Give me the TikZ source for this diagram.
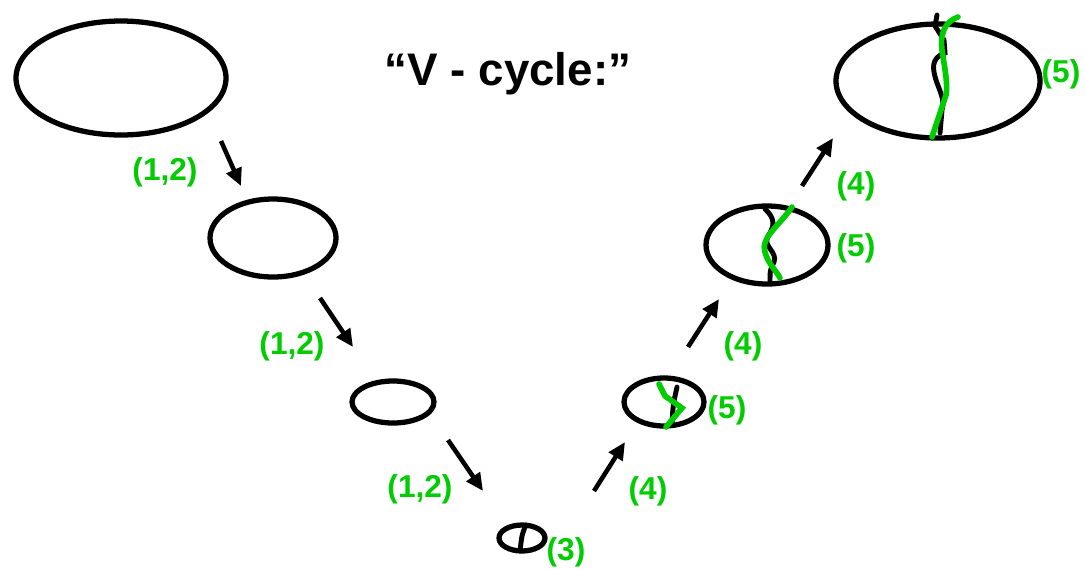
\documentclass[tikz,border=0pt]{standalone}
\usepackage{fontspec}
\setmainfont{Liberation Sans}
\usetikzlibrary{arrows.meta}
\definecolor{lbl}{RGB}{0,204,0}
\begin{document}
\begin{tikzpicture}[x=0.02cm,y=-0.02cm,
  cellline/.style={line width=3pt},
  arr/.style={line width=2.6pt,-{Triangle[length=10pt,width=9pt]}},
  glbl/.style={text=lbl,font=\bfseries\fontsize{18}{18}\selectfont,inner sep=0pt},
  crackb/.style={draw=black,line width=2.8pt,line cap=round},
  crackg/.style={draw=lbl,line width=3.2pt,line cap=round}]
\useasboundingbox (0,0) rectangle (1085,569);
% ellipses
\draw[cellline] (121,78) ellipse [x radius=105, y radius=57];
\draw[cellline] (273,238) ellipse [x radius=63, y radius=39];
\draw[cellline] (393,402) ellipse [x radius=41, y radius=21];
\draw[cellline] (522,538) ellipse [x radius=23, y radius=13];
\draw[cellline] (664,402) ellipse [x radius=40, y radius=24];
\draw[cellline] (767,245) ellipse [x radius=61, y radius=39];
\draw[cellline] (938,81) ellipse [x radius=102, y radius=57];
% cracks
\draw[crackb] (526,525) .. controls (522,534) .. (520,551);
\draw[crackb] (677,387) .. controls (673,405) .. (672,424);
\draw[crackg] (659,384) -- (665,396) -- (682,408) -- (666,427);
\draw[crackb] (765,209) .. controls (775,218) and (775,226) .. (768,236)
  .. controls (762,246) and (778,252) .. (774,262) .. controls (770,270) .. (770,283);
\draw[crackg] (792,207) .. controls (780,225) and (760,238) .. (765,252)
  .. controls (768,264) and (776,270) .. (780,278);
\draw[crackb] (937,15) -- (935,26) -- (944,40) -- (945,53) .. controls (930,58) and (933,70) .. (936,80)
  .. controls (940,92) and (945,100) .. (942,110) -- (940,133);
\draw[crackg] (958,17) .. controls (944,22) and (940,35) .. (942,50)
  .. controls (945,70) and (948,85) .. (946,95) -- (932,137);
% arrows
\coordinate (a1s) at (221,141); \coordinate (a1e) at (241,186);
\coordinate (a2s) at (320,298); \coordinate (a2e) at (353,347);
\coordinate (a3s) at (448,440); \coordinate (a3e) at (483,491);
\coordinate (a4s) at (594,491); \coordinate (a4e) at (625,442);
\coordinate (a5s) at (688,347); \coordinate (a5e) at (719,299);
\coordinate (a6s) at (802,186); \coordinate (a6e) at (833,138);
\foreach \i in {1,...,6} \draw[arr] (a\i s) -- (a\i e);
% labels
\node[glbl] (l1) at (165,172) {(1,2)};
\node[glbl] (l2) at (292,346) {(1,2)};
\node[glbl] (l3) at (420,489) {(1,2)};
\node[glbl] (l4) at (566,552) {(3)};
\node[glbl] (l5) at (648,491) {(4)};
\node[glbl] (l6) at (743,346) {(4)};
\node[glbl] (l7) at (856,186) {(4)};
\node[glbl] (l8) at (727,410) {(5)};
\node[glbl] (l9) at (856,248) {(5)};
\node[glbl] (l10) at (1061,74) {(5)};
\node[font=\bfseries\fontsize{26}{26}\selectfont,inner sep=0pt] (title) at (508,74) {“V - cycle:”};
\end{tikzpicture}
\end{document}
